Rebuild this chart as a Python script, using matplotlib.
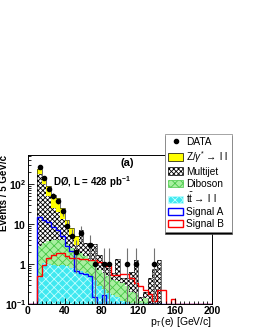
import numpy as np
import matplotlib
matplotlib.use("Agg")
import matplotlib.pyplot as plt
from matplotlib.patches import Patch
from matplotlib.lines import Line2D
from matplotlib.ticker import MultipleLocator, LogLocator, NullFormatter

plt.rcParams["font.family"] = ["Liberation Sans", "DejaVu Sans"]
plt.rcParams["mathtext.fontset"] = "custom"
plt.rcParams["mathtext.rm"] = "Liberation Sans"
plt.rcParams["mathtext.it"] = "Liberation Sans:italic"
plt.rcParams["mathtext.bf"] = "Liberation Sans:bold"
plt.rcParams["hatch.linewidth"] = 0.6

# 5 GeV bins, values listed from the 10-15 GeV bin upwards
edges = np.arange(0, 205, 5)
first_bin = 2

z_ll = [55, 50, 40, 29, 25, 12, 5, 2.5, 2.0]
multijet = [182, 97, 46, 22, 16, 9, 4.7, 3.0, 0.9, 5.1,
            1.75, 2.0, 2.1, 1.0, 0.5, 0.3, 0.2, 1.0, 0.12, 0.17,
            0.45, 1.04, 0.03, 0.06, 0.35, 0.7, 1.3]
diboson = [2.3, 2.25, 2.7, 3.1, 3.2, 3.15, 2.4, 1.7, 1.4, 1.25,
           0.95, 0.8, 0.76, 0.44, 0.37, 0.31, 0.23, 0.22, 0.21, 0.17,
           0.1, 0.11, 0.06, 0.09, 0.06, 0.05]
ttbar = [0.5, 1.05, 1.0, 0.96, 0.9, 0.95, 0.87, 0.8, 0.72, 0.66,
         0.6, 0.5, 0.4, 0.28, 0.23, 0.19, 0.17, 0.15, 0.12, 0.11,
         0.1, 0.08, 0.06, 0.05, 0.04]
data = [275, 146, 75, 51, 38, 21, 9, 5, 2, 6,
        0, 3, 1, 0, 1, 1, 0, 0, 0, 1,
        0, 1, 0, 0, 0, 1]
signal_a = [15, 13, 11.5, 8.5, 7, 5, 2.8, 2.1, 0.66, 0.6,
            0.55, 0.5, 0.15, 0, 0.17]
signal_b = [0.5, 0.96, 1.4, 1.7, 1.95, 1.9, 1.55, 1.4, 1.4, 1.36,
            1.33, 1.28, 1.25, 1.16, 1.06, 0.87, 0.54, 0.54, 0.57, 0.57,
            0.45, 0.33, 0.28, 0.23, 0.18, 0.12, 0.23, 0.23, 0, 0.13]

ymin, ymax = 0.1, 540


def full(vals):
    out = np.zeros(len(edges) - 1)
    out[first_bin:first_bin + len(vals)] = vals
    return out


fig = plt.figure(figsize=(2.55, 3.3), dpi=100)
ax = fig.add_axes([28 / 255, 26 / 330, 184 / 255, 149 / 330])
ax.set_yscale("log")

layers = [
    (ttbar, dict(facecolor="#40e8f0", edgecolor="#c0ffff", hatch="xxxx")),
    (diboson, dict(facecolor="#a8f0a0", edgecolor="#48c848", hatch="xxxx")),
    (multijet, dict(facecolor="white", edgecolor="black", hatch="xxxxxxx")),
    (z_ll, dict(facecolor="#ffff00", edgecolor="#ffff00")),
]
bottom = np.full(len(edges) - 1, 1e-3)
for vals, style in layers:
    top = bottom + full(vals)
    ax.stairs(top, edges, baseline=bottom, fill=True, lw=0, **style)
    bottom = top
ax.stairs(bottom, edges, baseline=None, color="black", lw=0.4)

ax.stairs(np.maximum(full(signal_a), ymin), edges, baseline=None,
          color="#0000ff", lw=1.0)
ax.stairs(np.maximum(full(signal_b), ymin), edges, baseline=None,
          color="#ff0000", lw=1.0)

centers = 0.5 * (edges[:-1] + edges[1:])
counts = full(data)
mask = counts > 0
err_lo = np.sqrt(counts[mask])
err_hi = np.sqrt(counts[mask]) + 0.5
ax.errorbar(centers[mask], counts[mask], yerr=[err_lo, err_hi], fmt="none",
            ecolor="0.45", elinewidth=0.8, zorder=4)
ax.plot(centers[mask], counts[mask], "o", color="black", ms=3, zorder=5)

ax.set_xlim(0, 200)
ax.set_ylim(ymin, ymax)
ax.xaxis.set_major_locator(MultipleLocator(40))
ax.xaxis.set_minor_locator(MultipleLocator(5))
ax.set_yticks([0.1, 1, 10, 100],
              labels=[r"$\mathbf{10^{-1}}$", r"$\mathbf{1}$",
                      r"$\mathbf{10}$", r"$\mathbf{10^{2}}$"])
ax.yaxis.set_minor_locator(LogLocator(base=10, subs=np.arange(2, 10)))
ax.yaxis.set_minor_formatter(NullFormatter())
ax.tick_params(which="both", direction="in", labelsize=7.5, width=0.6)
ax.tick_params(which="major", length=4, pad=1.5)
ax.tick_params(axis="y", which="major", pad=1)
ax.tick_params(which="minor", length=2)
for lab in ax.get_xticklabels():
    lab.set_fontweight("bold")
for sp in ax.spines.values():
    sp.set_linewidth(0.7)

ax.set_ylabel("Events / 5 GeV/c", fontsize=7, fontweight="bold", loc="top")
ax.yaxis.set_label_coords(-0.102, 1.0)
ax.set_xlabel(r"p$_{\mathrm{T}}$(e) [GeV/c]", fontsize=7.5, loc="right")
ax.xaxis.set_label_coords(1.0, -0.075)
ax.xaxis.label.set_va("top")

ax.text(127 / 255, 1 - 163 / 330, "(a)", transform=fig.transFigure,
        fontsize=8, fontweight="bold", ha="center", va="center")
ax.text(53 / 255, 1 - 182 / 330, r"DØ, L = 428 pb$^{\mathbf{-1}}$",
        transform=fig.transFigure, fontsize=7, fontweight="bold",
        ha="left", va="center")

handles = [
    Line2D([], [], marker="o", color="black", ls="none", ms=3),
    Patch(facecolor="#ffff00", edgecolor="black", lw=0.5),
    Patch(facecolor="white", edgecolor="black", hatch="xxxxxxx", lw=0.5),
    Patch(facecolor="#a8f0a0", edgecolor="#48c848", hatch="xxxx", lw=0.5),
    Patch(facecolor="#40e8f0", edgecolor="#c0ffff", hatch="xxxx", lw=0.5),
    Patch(facecolor="white", edgecolor="#0000ff", lw=1.0),
    Patch(facecolor="white", edgecolor="#ff0000", lw=1.0),
]
labels = ["DATA", r"Z/$\gamma^{*}\rightarrow$ l l", "Multijet", "Diboson",
          r"t$\bar{\mathrm{t}}\rightarrow$ l l", "Signal A", "Signal B"]
leg = ax.legend(handles, labels, loc="upper left",
                bbox_to_anchor=(165 / 255, 1 - 134 / 330),
                bbox_transform=fig.transFigure, borderaxespad=0,
                fontsize=7.3, frameon=True, fancybox=False,
                edgecolor="0.5", framealpha=1, handlelength=1.5,
                handleheight=0.8, handletextpad=0.3, labelspacing=0.2,
                borderpad=0.3,
                shadow={"ox": 0, "oy": -1.2, "facecolor": "black",
                        "alpha": 1})
leg.get_frame().set_linewidth(0.5)
leg.set_zorder(10)

fig.savefig("out.png", dpi=100)
